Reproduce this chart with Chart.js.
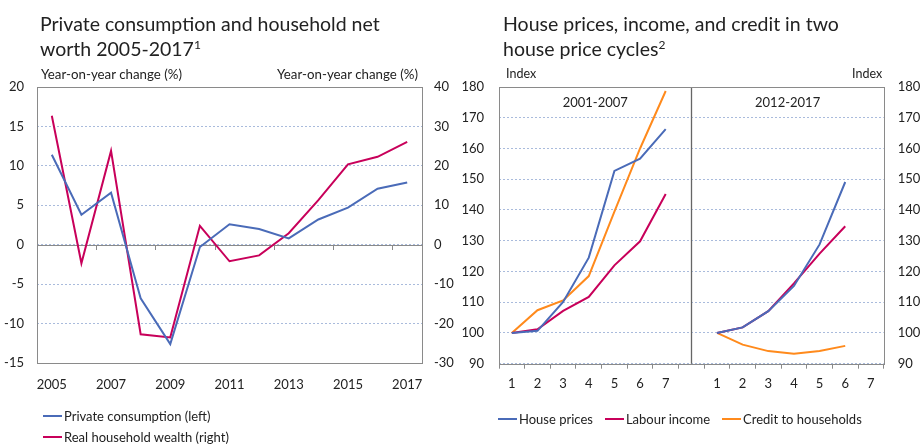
<!DOCTYPE html>
<html>
<head>
<meta charset="utf-8">
<script src="https://cdn.jsdelivr.net/npm/chart.js@4.4.1/dist/chart.umd.min.js"></script>
<style>
  body { margin: 0; background: #fff; font-family: Lato, sans-serif; color: #222; }
  #wrap { position: relative; width: 920px; height: 444px; overflow: hidden; }
  .box { position: absolute; top: 0; width: 460px; height: 444px; }
  .title { position: absolute; font-size: 19.5px; line-height: 25px; color: #222; white-space: nowrap; }
  .unit { position: absolute; font-size: 13.3px; color: #222; white-space: nowrap; }
  .legend { position: absolute; font-size: 13px; color: #222; }
  .item { display: flex; align-items: center; white-space: nowrap; }
  .swatch { display: inline-block; width: 19px; height: 2px; margin-right: 2px; }
  sup { font-size: 12px; line-height: 0; }
</style>
</head>
<body>
<div id="wrap">
  <div class="box" style="left:0"><canvas id="left"></canvas></div>
  <div class="box" style="left:460px"><canvas id="right"></canvas></div>
  <div class="title" style="left:40px;top:11px">Private consumption and household net<br>worth 2005-2017<sup>1</sup></div>
  <div class="title" style="left:503px;top:11px">House prices, income, and credit in two<br>house price cycles<sup>2</sup></div>
  <div class="unit" style="left:41px;top:66px">Year-on-year change (%)</div>
  <div class="unit" style="left:277px;top:66px">Year-on-year change (%)</div>
  <div class="unit" style="left:506px;top:66px;font-size:12.5px">Index</div>
  <div class="unit" style="left:852px;top:66px;font-size:12.5px">Index</div>
  <div class="legend" id="legendLeft" style="left:43px;top:405px"></div>
  <div class="legend" id="legendRight" style="left:498px;top:408px;display:flex"></div>
</div>
<script>
const years = ['2005','2006','2007','2008','2009','2010','2011','2012','2013','2014','2015','2016','2017'];
const consumption = [11.4, 3.8, 6.6, -6.8, -12.6, -0.3, 2.6, 2.0, 0.8, 3.2, 4.7, 7.1, 7.9];
const wealth = [32.7, -4.7, 23.8, -22.7, -23.5, 4.8, -4.2, -2.7, 2.9, 11.3, 20.4, 22.3, 26.1];
const leftNames = ['Private consumption (left)', 'Real household wealth (right)'];

// two cycles on one axis, separated by an empty slot
const periods = ['1','2','3','4','5','6','7','','1','2','3','4','5','6','7'];
const cycleLabels = ['2001-2007', '2012-2017'];
const housePrices = [100, 100.7, 110.1, 124.5, 152.7, 156.7, 166.3, null, 100, 101.8, 107.1, 115.3, 128.8, 149.1, null];
const labourIncome = [100, 101.2, 107.2, 111.7, 122, 129.8, 145.2, null, 100, 101.8, 107.1, 116.1, 125.8, 134.7, null];
const credit = [100, 107.4, 110.6, 118.5, 139.5, 160, 178.7, null, 100, 96.2, 94.1, 93.2, 94.1, 95.8, null];
const rightNames = ['House prices', 'Labour income', 'Credit to households'];

const BLUE = '#4a6bb8', RED = '#c8005a', ORANGE = '#ff8a1c';
const GRID = '#a9bbdc', FRAME = '#8a8a8a';
const tickFont = { family: 'Lato', size: 13 };

Chart.defaults.color = '#222';
Chart.defaults.animation = false;

function fixWidth(w) {
  return (scale) => { scale.width = w; };
}

// plot frame, zero line + tick marks, divider and panel labels
const decor = {
  id: 'decor',
  beforeDatasetsDraw(chart, args, opts) {
    const { ctx, chartArea: a, scales } = chart;
    ctx.save();
    if (opts.zeroLine) {
      const y0 = Math.round(scales.y.getPixelForValue(0));
      ctx.strokeStyle = FRAME;
      ctx.lineWidth = 1;
      ctx.beginPath();
      ctx.moveTo(a.left, y0 + 0.5);
      ctx.lineTo(a.right, y0 + 0.5);
      const step = (a.right - a.left) / years.length;
      for (let i = 2; i < years.length; i += 2) {
        const x = Math.round(a.left + step * i) + 0.5;
        ctx.moveTo(x, y0);
        ctx.lineTo(x, y0 + 5);
      }
      ctx.stroke();
    }
    if (opts.divider != null) {
      const x = Math.round(scales.x.getPixelForValue(opts.divider)) + 0.5;
      ctx.strokeStyle = '#666';
      ctx.lineWidth = 1.3;
      ctx.beginPath();
      ctx.moveTo(x, a.top);
      ctx.lineTo(x, a.bottom);
      ctx.stroke();
      ctx.fillStyle = '#222';
      ctx.font = '13px Lato';
      ctx.textAlign = 'center';
      ctx.textBaseline = 'middle';
      const mid1 = (a.left + x) / 2, mid2 = (x + a.right) / 2;
      ctx.fillText(cycleLabels[0], mid1, a.top + 16);
      ctx.fillText(cycleLabels[1], mid2, a.top + 16);
    }
    ctx.strokeStyle = FRAME;
    ctx.lineWidth = 1;
    ctx.strokeRect(Math.round(a.left) + 0.5, Math.round(a.top) + 0.5, Math.round(a.right - a.left), Math.round(a.bottom - a.top));
    ctx.restore();
  }
};

function line(label, data, color, axis) {
  return { label, data, borderColor: color, backgroundColor: color, borderWidth: 2,
    pointRadius: 0, tension: 0, yAxisID: axis, spanGaps: false };
}

new Chart(document.getElementById('left'), {
  type: 'line',
  data: {
    labels: years,
    datasets: [
      line(leftNames[0], consumption, BLUE, 'y'),
      line(leftNames[1], wealth, RED, 'y2')
    ]
  },
  options: {
    responsive: true,
    maintainAspectRatio: false,
    layout: { padding: { top: 87, bottom: 50, left: 0, right: 0 } },
    plugins: { legend: { display: false }, tooltip: { enabled: false }, decor: { zeroLine: true } },
    scales: {
      x: {
        type: 'category',
        offset: true,
        grid: { display: false },
        border: { display: false },
        ticks: { font: tickFont, autoSkip: false, maxRotation: 0, padding: 6,
          callback: (v, i) => (i % 2 === 0 ? years[i] : '') },
        afterFit: (s) => { s.height = 31; }
      },
      y: {
        position: 'left',
        min: -15, max: 20,
        ticks: { stepSize: 5, font: tickFont, padding: 13 },
        grid: { color: GRID, drawTicks: false },
        border: { display: false, dash: [2, 2] },
        afterFit: fixWidth(37)
      },
      y2: {
        position: 'right',
        min: -30, max: 40,
        ticks: { stepSize: 10, font: tickFont, padding: 12 },
        grid: { display: false, drawTicks: false },
        border: { display: false },
        afterFit: fixWidth(38)
      }
    }
  },
  plugins: [decor]
});

new Chart(document.getElementById('right'), {
  type: 'line',
  data: {
    labels: periods,
    datasets: [
      line(rightNames[0], housePrices, BLUE, 'y'),
      line(rightNames[1], labourIncome, RED, 'y'),
      line(rightNames[2], credit, ORANGE, 'y')
    ]
  },
  options: {
    responsive: true,
    maintainAspectRatio: false,
    layout: { padding: { top: 87, bottom: 50, left: 0, right: 0 } },
    plugins: { legend: { display: false }, tooltip: { enabled: false }, decor: { divider: 7 } },
    scales: {
      x: {
        type: 'category',
        offset: true,
        grid: { offset: true, drawOnChartArea: false, tickLength: 5, tickColor: FRAME, color: FRAME },
        border: { display: false },
        ticks: { font: tickFont, autoSkip: false, maxRotation: 0, padding: 7 },
        afterFit: (s) => { s.height = 30.3; }
      },
      y: {
        position: 'left',
        min: 90, max: 180,
        ticks: { stepSize: 10, font: tickFont, padding: 15 },
        grid: { color: GRID, drawTicks: false },
        border: { display: false, dash: [2, 2] },
        afterFit: fixWidth(39)
      },
      y2: {
        position: 'right',
        min: 90, max: 180,
        ticks: { stepSize: 10, font: tickFont, padding: 14 },
        grid: { display: false, drawTicks: false },
        border: { display: false },
        afterFit: fixWidth(36.3)
      }
    }
  },
  plugins: [decor]
});

function legend(el, names, colors, gap) {
  names.forEach((n, i) => {
    const d = document.createElement('div');
    d.className = 'item';
    d.style.marginRight = gap + 'px';
    d.style.height = '21px';
    d.innerHTML = '<span class="swatch" style="background:' + colors[i] + '"></span>' + n;
    el.appendChild(d);
  });
}
legend(document.getElementById('legendLeft'), leftNames, [BLUE, RED], 0);
legend(document.getElementById('legendRight'), rightNames, [BLUE, RED, ORANGE], 12);
</script>
</body>
</html>
